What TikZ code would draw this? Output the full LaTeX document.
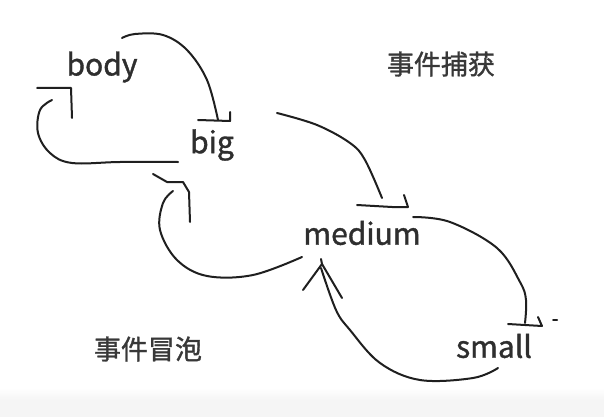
\documentclass[tikz,border=0pt]{standalone}
\usepackage{fontspec}
\setmainfont{Noto Sans CJK SC}[FakeBold=1.2]
\begin{document}
\begin{tikzpicture}[x=1pt,y=-1pt,
  lbl/.style={text=black!82, inner sep=0pt, font=\fontsize{30}{32}\selectfont},
  cjk/.style={text=black!78, inner sep=0pt, font=\fontsize{27}{30}\selectfont},
  stroke/.style={draw=black!88, line width=2pt, line cap=round, line join=round}]
\useasboundingbox (0,0) rectangle (604,417);
\fill[white] (0,0) rectangle (604,417);
\shade[top color=white, bottom color=black!4] (0,388) rectangle (604,400);
\fill[black!4] (0,400) rectangle (604,417);

\node[lbl] (body) at (102,67) {body};
\node[lbl] (big) at (212,145) {big};
\node[lbl] (medium) at (362,233) {medium};
\node[lbl] (small) at (494,346) {small};
\node[cjk] (capture) at (441,64) {事件捕获};
\node[cjk] (bubble) at (148,349) {事件冒泡};

% body -> big (capture)
\draw[stroke] plot[smooth, tension=0.6] coordinates {(122,38) (135,34) (163,35) (187,50) (207,80) (218,120)};
\draw[stroke] (198,120) -- (230,121) -- (230,112);

% big -> body (bubble)
\draw[stroke] plot[smooth, tension=0.6] coordinates {(178,162) (120,162) (72,163) (50,153) (38,133) (40,110) (52,100)};
\draw[stroke] (37,88) -- (71,88) -- (72,118);

% big -> medium (capture)
\draw[stroke] plot[smooth, tension=0.6] coordinates {(277,113) (317,125) (350,143) (365,160) (382,198)};
\draw[stroke] (357,205) -- (392,207) -- (408,207) -- (404,195);

% medium -> big (bubble)
\draw[stroke] plot[smooth, tension=0.6] coordinates {(302,257) (253,275) (207,276) (177,260) (160,230) (163,203) (173,191)};
\draw[stroke] (153,174) -- (167,182) -- (183,182) -- (189,192) -- (190,222);

% medium -> small (capture)
\draw[stroke] plot[smooth, tension=0.6] coordinates {(413,217) (450,222) (497,248) (520,282) (526,300) (525,323)};
\draw[stroke] (508,324) -- (542,326) -- (538,317);
\draw[stroke] (553,320) -- (557,320);

% small -> medium (bubble)
\draw[stroke] plot[smooth, tension=0.6] coordinates {(498,368) (473,378) (420,380) (380,363) (350,330) (336,310) (321,268)};
\draw[stroke] (303,290) -- (322,264) -- (342,298);
\draw[stroke] (322,264) -- (321,259);
\end{tikzpicture}
\end{document}
